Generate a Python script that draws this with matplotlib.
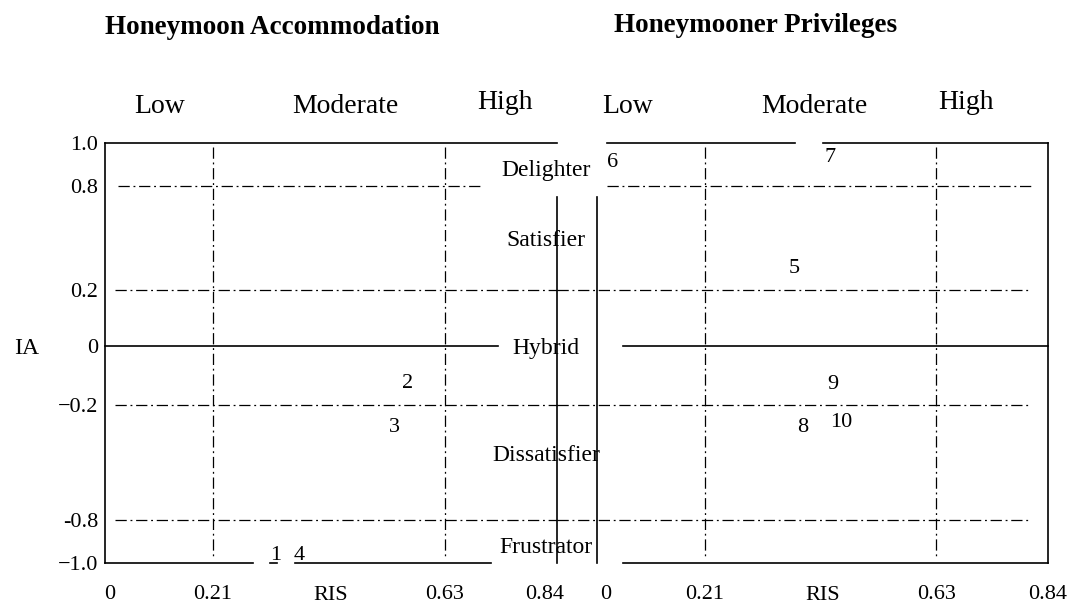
import numpy as np
import matplotlib
matplotlib.use("Agg")
import matplotlib.pyplot as plt
import matplotlib.transforms as mtransforms

plt.rcParams['font.family'] = ['Liberation Serif', 'DejaVu Serif']

# axis breakpoints (values shown on the diagram)
ris_ticks = [0, 0.21, 0.63, 0.84]
ris_ticklabels = ['0', '0.21', '0.63', '0.84']
ia_ticks = [-1.0, -0.8, -0.2, 0, 0.2, 0.8, 1.0]
ia_ticklabels = ['\u22121.0', '-0.8', '\u22120.2', '0', '0.2', '0.8', '1.0']

levels = ['Low', 'Moderate', 'High']
categories = ['Delighter', 'Satisfier', 'Hybrid', 'Dissatisfier', 'Frustrator']
category_ia = [0.884, 0.5, 0.0, -0.45, -0.916]

# attribute numbers with (RIS, IA) positions
acc_ids = ['1', '4', '2', '3']
acc_ris = [0.324, 0.366, 0.563, 0.539]
acc_ia = [-0.953, -0.953, -0.119, -0.304]

priv_ids = ['6', '7', '5', '9', '8', '10']
priv_ris = [0.031, 0.438, 0.373, 0.443, 0.387, 0.458]
priv_ia = [0.921, 0.944, 0.338, -0.122, -0.304, -0.278]

# the drawing is not to scale: piecewise mapping of values to drawn distance
x_knots = [-1.0, 0, 0.21, 0.63, 0.84, 1.5]
x_draw = [-514, 0, 108, 340, 452, 452 + 0.66 * 533]
y_knots = [-2.0, -1.0, -0.8, -0.2, 0, 0.2, 0.8, 1.0, 2.0]
y_draw = [-215, 0, 43, 158, 217, 273, 377, 420, 635]


def xf(v):
    return np.interp(v, x_knots, x_draw)


def xi(v):
    return np.interp(v, x_draw, x_knots)


def yf(v):
    return np.interp(v, y_knots, y_draw)


def yi(v):
    return np.interp(v, y_draw, y_knots)


W, H = 1072, 606
fig = plt.figure(figsize=(W / 100, H / 100), dpi=100)
ax1 = fig.add_axes([105 / W, (H - 563) / H, 452 / W, 420 / H])
ax2 = fig.add_axes([597 / W, (H - 563) / H, 451 / W, 420 / H])

solid = dict(color='black', lw=1.2, clip_on=False)
dashdot = dict(color='black', lw=0.9, ls=(0, (9, 3, 1.5, 3)), clip_on=False)

for ax in (ax1, ax2):
    ax.set_xscale('function', functions=(xf, xi))
    ax.set_yscale('function', functions=(yf, yi))
    ax.set_xlim(0, 0.84)
    ax.set_ylim(-1, 1)
    for s in ax.spines.values():
        s.set_visible(False)
    ax.set_xticks(ris_ticks)
    ax.set_xticklabels(ris_ticklabels)
    ax.tick_params(axis='x', length=0, pad=16, labelsize=16)
    ax.set_xlabel('RIS', fontsize=16, labelpad=-13)
    ax.set_facecolor('none')
    # RIS thresholds
    for r in (0.21, 0.63):
        ax.plot([r, r], [0.98, -0.98], **dashdot)
    for x, lab in zip([0.107, 0.449, 0.7425] if ax is ax1 else [0.06, 0.409, 0.686], levels):
        ax.text(x, 1.19 if lab == 'High' else 1.17, lab, ha='center', va='center', fontsize=20)


def nudge(label, dx):
    label.set_transform(label.get_transform() +
                        mtransforms.ScaledTranslation(dx / 100, 0, fig.dpi_scale_trans))


nudge(ax1.get_xticklabels()[0], 5)
nudge(ax1.get_xticklabels()[-1], -12)
nudge(ax2.get_xticklabels()[0], 9)

ax1.set_yticks(ia_ticks)
ax1.set_yticklabels(ia_ticklabels)
ax1.tick_params(axis='y', length=0, pad=5, labelsize=16)
ax2.set_yticks([])

# left panel frame
ax1.plot([0, 0.84], [1, 1], **solid)
ax1.plot([0, 0], [1, -1], **solid)
ax1.plot([0, 0.729], [0, 0], **solid)
ax1.plot([0, 0.282], [-1, -1], **solid)
ax1.plot([0.313, 0.326], [-1, -1], **solid)
ax1.plot([0.358, 0.716], [-1, -1], **solid)
ax1.plot([0.84, 0.84], [0.737, -1], **solid)
ax1.plot([0.025, 0.701], [0.8, 0.8], **dashdot)
for lv in (0.2, -0.2, -0.8):
    ax1.plot([0.02, 0.84], [lv, lv], **dashdot)

# right panel frame
ax2.plot([0.019, 0.373], [1, 1], **solid)
ax2.plot([0.424, 0.84], [1, 1], **solid)
ax2.plot([0.84, 0.84], [1, -1], **solid)
ax2.plot([0.051, 0.84], [0, 0], **solid)
ax2.plot([0.051, 0.84], [-1, -1], **solid)
ax2.plot([0, 0], [0.737, -1], **solid)
ax2.plot([0.019, 0.81], [0.8, 0.8], **dashdot)
for lv in (0.2, -0.2, -0.8):
    ax2.plot([-0.078, 0.805], [lv, lv], **dashdot)

for cat, ia in zip(categories, category_ia):
    ax1.text(0.82, ia, cat, ha='center', va='center_baseline', fontsize=17)

for t, x, y in zip(acc_ids, acc_ris, acc_ia):
    ax1.text(x, y, t, ha='center', va='center_baseline', fontsize=16)
for t, x, y in zip(priv_ids, priv_ris, priv_ia):
    ax2.text(x, y, t, ha='center', va='center_baseline', fontsize=16)

fig.text(27 / W, 1 - 346 / H, 'IA', ha='center', va='center_baseline', fontsize=17)
fig.text(272 / W, 1 - 28 / H, 'Honeymoon Accommodation', ha='center', va='center',
         fontsize=19.5, fontweight='bold')
fig.text(756 / W, 1 - 25 / H, 'Honeymooner Privileges', ha='center', va='center',
         fontsize=19.5, fontweight='bold')

fig.savefig('out.png', dpi=100)
